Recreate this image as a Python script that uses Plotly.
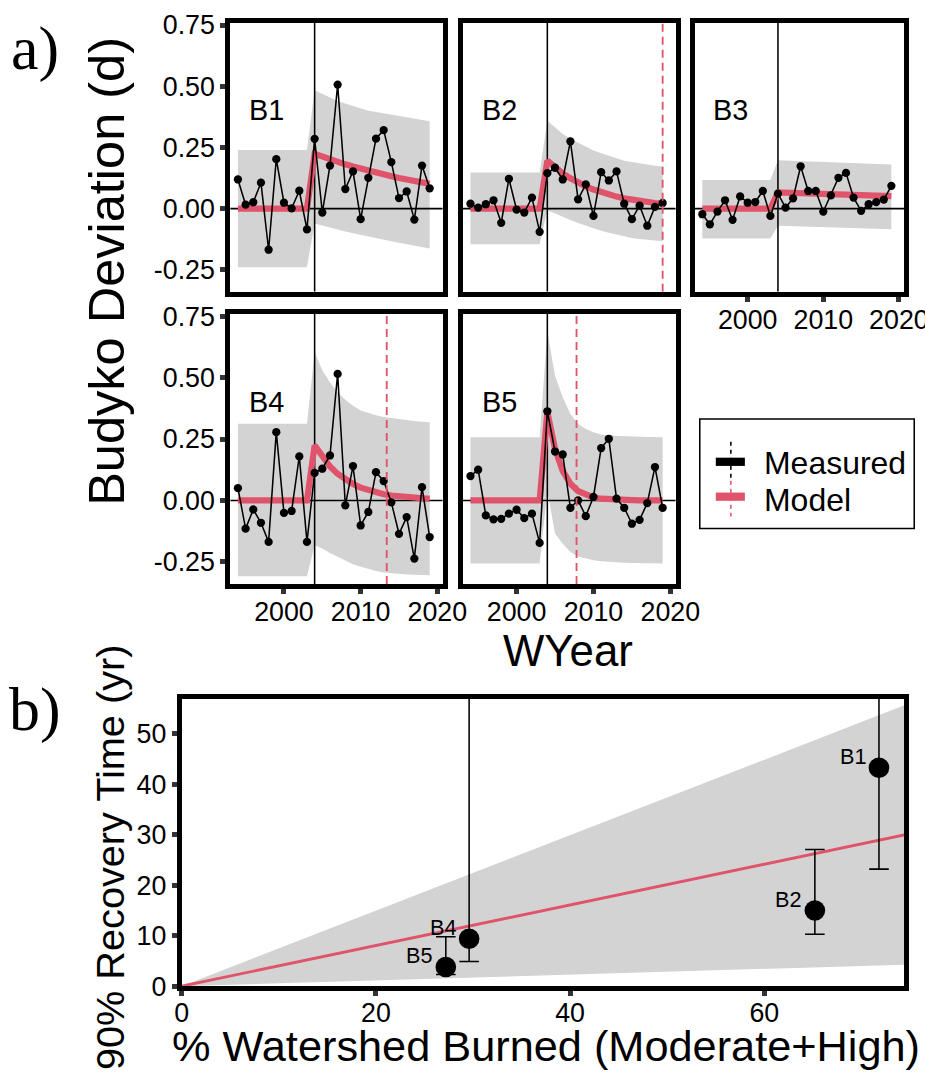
import plotly.graph_objects as go

# Figure size (CSS px). Positions below are given in reference-picture pixels and converted.
W, H = 942, 1080
OFF = 8            # default body margin of the page
SX, SY = 0.965, 0.978   # observed screenshot scaling
K = 1 / 0.97       # size compensation for fonts / widths

# ---------------- data: panel a) ----------------
years = [1994, 1995, 1996, 1997, 1998, 1999, 2000, 2001, 2002, 2003, 2004, 2005, 2006,
         2007, 2008, 2009, 2010, 2011, 2012, 2013, 2014, 2015, 2016, 2017, 2018, 2019]
basins = ["B1", "B2", "B3", "B4", "B5"]
fire_year = 2004

b1_measured = [0.119, 0.016, 0.026, 0.106, -0.168, 0.202, 0.024, 0.001, 0.073, -0.085, 0.285, -0.016, 0.176,
               0.507, 0.080, 0.152, -0.043, 0.126, 0.286, 0.321, 0.190, 0.043, 0.070, -0.045, 0.176, 0.083]
b1_model = [0, 0, 0, 0, 0, 0, 0, 0, 0, 0, 0.224, 0.212, 0.201, 0.191, 0.181, 0.172, 0.163, 0.154, 0.146,
            0.139, 0.132, 0.125, 0.118, 0.112, 0.107, 0.101]
b1_upper = [0.24, 0.24, 0.24, 0.24, 0.24, 0.24, 0.24, 0.24, 0.24, 0.24, 0.484, 0.47, 0.455, 0.44, 0.43, 0.42,
            0.41, 0.40, 0.395, 0.39, 0.383, 0.377, 0.372, 0.367, 0.362, 0.357]
b1_lower = [-0.24, -0.24, -0.24, -0.24, -0.24, -0.24, -0.24, -0.24, -0.24, -0.24, -0.061, -0.07, -0.078,
            -0.086, -0.094, -0.101, -0.108, -0.115, -0.121, -0.127, -0.133, -0.139, -0.145, -0.151, -0.157, -0.163]

b2_measured = [0.020, 0.004, 0.018, 0.034, -0.058, 0.122, -0.004, -0.016, 0.045, -0.095, 0.145, 0.167, 0.119,
               0.275, 0.038, 0.099, -0.030, 0.149, 0.115, 0.152, 0.020, -0.043, 0.012, -0.070, 0.007, 0.023]
b2_model = [0, 0, 0, 0, 0, 0, 0, 0, 0, 0, 0.196, 0.168, 0.144, 0.124, 0.106, 0.091, 0.078, 0.067, 0.057,
            0.049, 0.042, 0.036, 0.031, 0.027, 0.023, 0.020]
b2_upper = [0.148, 0.148, 0.148, 0.148, 0.148, 0.148, 0.148, 0.148, 0.148, 0.148, 0.359, 0.33, 0.305, 0.285,
            0.268, 0.252, 0.237, 0.226, 0.215, 0.205, 0.196, 0.19, 0.184, 0.179, 0.175, 0.172]
b2_lower = [-0.146, -0.146, -0.146, -0.146, -0.146, -0.146, -0.146, -0.146, -0.146, -0.146, -0.007, -0.021,
            -0.034, -0.047, -0.059, -0.07, -0.081, -0.09, -0.099, -0.107, -0.115, -0.12, -0.124, -0.128, -0.131, -0.133]

b3_measured = [-0.023, -0.064, -0.012, 0.034, -0.046, 0.050, 0.024, 0.027, 0.072, -0.030, 0.061, 0.004, 0.042,
               0.173, 0.072, 0.072, -0.012, 0.054, 0.126, 0.146, 0.045, -0.009, 0.018, 0.027, 0.037, 0.093]
b3_model = [0, 0, 0, 0, 0, 0, 0, 0, 0, 0, 0.066, 0.065, 0.064, 0.063, 0.062, 0.061, 0.060, 0.059, 0.058,
            0.057, 0.056, 0.055, 0.054, 0.053, 0.052, 0.051]
b3_upper = [0.117, 0.117, 0.117, 0.117, 0.117, 0.117, 0.117, 0.117, 0.117, 0.117, 0.198, 0.197, 0.196, 0.195,
            0.194, 0.193, 0.192, 0.191, 0.19, 0.189, 0.188, 0.186, 0.185, 0.183, 0.182, 0.18]
b3_lower = [-0.122, -0.122, -0.122, -0.122, -0.122, -0.122, -0.122, -0.122, -0.122, -0.122, -0.070, -0.071,
            -0.072, -0.073, -0.074, -0.075, -0.076, -0.077, -0.078, -0.079, -0.08, -0.081, -0.082, -0.083, -0.083, -0.084]

b4_measured = [0.050, -0.115, -0.037, -0.091, -0.169, 0.278, -0.051, -0.043, 0.179, -0.169, 0.112, 0.129, 0.183,
               0.515, -0.020, 0.140, -0.102, -0.047, 0.115, 0.079, -0.008, -0.136, -0.068, -0.237, 0.054, -0.149]
b4_model = [0, 0, 0, 0, 0, 0, 0, 0, 0, 0, 0.224, 0.176, 0.138, 0.108, 0.085, 0.067, 0.052, 0.041, 0.032,
            0.025, 0.020, 0.016, 0.012, 0.010, 0.008, 0.006]
b4_upper = [0.312, 0.312, 0.312, 0.312, 0.312, 0.312, 0.312, 0.312, 0.312, 0.312, 0.603, 0.53, 0.48, 0.44,
            0.41, 0.385, 0.366, 0.355, 0.347, 0.34, 0.335, 0.33, 0.326, 0.323, 0.32, 0.318]
b4_lower = [-0.309, -0.309, -0.309, -0.309, -0.309, -0.309, -0.309, -0.309, -0.309, -0.309, -0.183, -0.196,
            -0.214, -0.23, -0.247, -0.26, -0.27, -0.28, -0.287, -0.293, -0.297, -0.3, -0.302, -0.303, -0.304, -0.305]

b5_measured = [0.099, 0.125, -0.061, -0.077, -0.075, -0.054, -0.038, -0.072, -0.054, -0.173, 0.363, 0.199, 0.187,
               -0.030, 0.000, -0.064, 0.014, 0.213, 0.251, 0.007, -0.030, -0.095, -0.079, -0.011, 0.136, -0.030]
b5_model = [0, 0, 0, 0, 0, 0, 0, 0, 0, 0, 0.36, 0.21, 0.12, 0.068, 0.038, 0.022, 0.012, 0.007, 0.004,
            0.002, 0.001, 0.001, 0.0, 0.0, 0.0, 0.0]
b5_upper = [0.257, 0.257, 0.257, 0.257, 0.257, 0.257, 0.257, 0.257, 0.257, 0.257, 0.69, 0.508, 0.42, 0.352,
            0.312, 0.291, 0.278, 0.268, 0.264, 0.262, 0.261, 0.26, 0.259, 0.258, 0.257, 0.257]
b5_lower = [-0.257, -0.257, -0.257, -0.257, -0.257, -0.257, -0.257, -0.257, -0.257, -0.257, 0.04, -0.135,
            -0.176, -0.21, -0.228, -0.237, -0.244, -0.248, -0.251, -0.253, -0.254, -0.255, -0.256, -0.256, -0.257, -0.257]

# ---------------- data: panel b) ----------------
burn_basins = ["B1", "B2", "B4", "B5"]
burn_pct = [71.8, 65.2, 29.6, 27.2]
recovery_time = [43.3, 15.0, 9.4, 3.8]
recovery_lo = [23.2, 10.3, 4.9, 2.3]
recovery_hi = [80.0, 27.1, 80.0, 9.8]
fit_x = [0, 75]
fit_y = [0, 30.2]
fit_hi = [0, 56.1]
fit_lo = [0, 4.3]

x_ticks_a = [2000, 2010, 2020]
y_ticks_a = [-0.25, 0.0, 0.25, 0.5, 0.75]
y_ticklabels_a = ["-0.25", "0.00", "0.25", "0.50", "0.75"]
x_ticks_b = [0, 20, 40, 60]
y_ticks_b = [0, 10, 20, 30, 40, 50]

# ---------------- styling ----------------
RED = "#DF536B"
GREY = "#D3D3D3"
FONT = "Liberation Sans, Arial, sans-serif"
SERIF = "Liberation Serif, Times New Roman, serif"
XR_A = [1993.0, 2020.7]
YR_A = [-0.34, 0.76]


def px(x):
    """reference-picture pixel x -> paper fraction"""
    return (x / SX - OFF) / W


def py(y):
    """reference-picture pixel y -> paper fraction"""
    return 1 - (y / SY - OFF) / H


def fs(v):
    return round(v * K, 2)


panel_data = {
    "B1": (b1_measured, b1_model, b1_upper, b1_lower),
    "B2": (b2_measured, b2_model, b2_upper, b2_lower),
    "B3": (b3_measured, b3_model, b3_upper, b3_lower),
    "B4": (b4_measured, b4_model, b4_upper, b4_lower),
    "B5": (b5_measured, b5_model, b5_upper, b5_lower),
}
recovery_lookup = dict(zip(burn_basins, recovery_time))

col_x = {"B1": (230.5, 442.5), "B2": (462.5, 675), "B3": (694, 903), "B4": (230.5, 442.5), "B5": (462.5, 675)}
row_y = {"B1": (18.5, 288.5), "B2": (18.5, 288.5), "B3": (18.5, 288.5), "B4": (310.5, 581.5), "B5": (310.5, 581.5)}
show_xlab = {"B1": False, "B2": False, "B3": True, "B4": True, "B5": True}
show_ylab = {"B1": True, "B2": False, "B3": False, "B4": True, "B5": False}

fig = go.Figure()
layout = dict(width=W, height=H, margin=dict(l=0, r=0, t=0, b=0), paper_bgcolor="white",
              plot_bgcolor="white", showlegend=False, font=dict(family=FONT, color="black"))
shapes = []
annotations = []

axis_common = dict(showline=True, linewidth=fs(4.5), linecolor="black", mirror=True, showgrid=False,
                   zeroline=False, ticklen=fs(5), tickwidth=fs(5), tickcolor="#333333",
                   tickfont=dict(size=fs(26), color="black", family=FONT))

for i, b in enumerate(basins, start=1):
    xa = "x" if i == 1 else f"x{i}"
    ya = "y" if i == 1 else f"y{i}"
    meas, model, up, lo = panel_data[b]
    fig.add_trace(go.Scatter(x=years, y=up, mode="lines", line=dict(width=0, color=GREY),
                             hoverinfo="skip", xaxis=xa, yaxis=ya))
    fig.add_trace(go.Scatter(x=years, y=lo, mode="lines", line=dict(width=0, color=GREY), fill="tonexty",
                             fillcolor=GREY, hoverinfo="skip", xaxis=xa, yaxis=ya))
    fig.add_trace(go.Scatter(x=XR_A, y=[0, 0], mode="lines", line=dict(color="black", width=fs(1.5)),
                             xaxis=xa, yaxis=ya))
    fig.add_trace(go.Scatter(x=[fire_year, fire_year], y=YR_A, mode="lines",
                             line=dict(color="black", width=fs(1.5)), xaxis=xa, yaxis=ya))
    fig.add_trace(go.Scatter(x=years, y=model, mode="lines", line=dict(color=RED, width=fs(6)),
                             xaxis=xa, yaxis=ya))
    fig.add_trace(go.Scatter(x=years, y=meas, mode="lines+markers", line=dict(color="black", width=fs(1.5)),
                             marker=dict(color="black", size=fs(8)), xaxis=xa, yaxis=ya))
    if b in recovery_lookup:
        rx = fire_year + recovery_lookup[b]
        if XR_A[0] <= rx <= XR_A[1]:
            fig.add_trace(go.Scatter(x=[rx, rx], y=YR_A, mode="lines",
                                     line=dict(color=RED, width=fs(1.8), dash="8px,5px"), xaxis=xa, yaxis=ya))

    x0, x1 = col_x[b]
    y0, y1 = row_y[b]
    xkey = "xaxis" if i == 1 else f"xaxis{i}"
    ykey = "yaxis" if i == 1 else f"yaxis{i}"
    layout[xkey] = dict(axis_common, domain=[px(x0), px(x1)], anchor=ya, range=XR_A,
                        tickvals=x_ticks_a, showticklabels=show_xlab[b],
                        ticks="outside" if show_xlab[b] else "", ticklabelstandoff=-5)
    layout[ykey] = dict(axis_common, domain=[py(y1), py(y0)], anchor=xa, range=YR_A,
                        tickvals=y_ticks_a, ticktext=y_ticklabels_a, showticklabels=show_ylab[b],
                        ticks="outside" if show_ylab[b] else "")
    annotations.append(dict(text=b, xref=f"{xa} domain", yref=f"{ya} domain", x=0.172, y=0.675,
                            showarrow=False, font=dict(size=fs(28), family=FONT, color="black"),
                            xanchor="center", yanchor="middle"))

# ---------------- panel b) ----------------
fig.add_trace(go.Scatter(x=fit_x, y=fit_hi, mode="lines", line=dict(width=0, color=GREY),
                         xaxis="x6", yaxis="y6", hoverinfo="skip"))
fig.add_trace(go.Scatter(x=fit_x, y=fit_lo, mode="lines", line=dict(width=0, color=GREY), fill="tonexty",
                         fillcolor=GREY, xaxis="x6", yaxis="y6", hoverinfo="skip"))
fig.add_trace(go.Scatter(x=fit_x, y=fit_y, mode="lines", line=dict(color=RED, width=fs(2.8)),
                         xaxis="x6", yaxis="y6"))
fig.add_trace(go.Scatter(
    x=burn_pct, y=recovery_time, mode="markers",
    marker=dict(color="black", size=fs(20)),
    error_y=dict(type="data", symmetric=False,
                 array=[h - r for h, r in zip(recovery_hi, recovery_time)],
                 arrayminus=[r - l for r, l in zip(recovery_time, recovery_lo)],
                 color="black", thickness=fs(1.5), width=fs(9.5)),
    xaxis="x6", yaxis="y6"))
for name, bx, by in zip(burn_basins, burn_pct, recovery_time):
    annotations.append(dict(text=name, x=bx, y=by, xref="x6", yref="y6", showarrow=False,
                            xanchor="right", yanchor="middle", xshift=-11.4, yshift=11.2,
                            font=dict(size=fs(21), family=FONT, color="black")))

layout["xaxis6"] = dict(axis_common, domain=[px(182), px(903)], anchor="y6", range=[0, 74.4],
                        tickvals=x_ticks_b, ticks="outside", ticklabelstandoff=-6)
layout["yaxis6"] = dict(axis_common, domain=[py(985), py(696.5)], anchor="x6", range=[0, 57],
                        tickvals=y_ticks_b, ticks="outside")

# ---------------- titles & labels ----------------
annotations += [
    dict(text="Budyko Deviation (d)", x=px(107), y=py(268), xref="paper", yref="paper", showarrow=False,
         textangle=-90, font=dict(size=fs(49), family=FONT, color="black"), xanchor="center", yanchor="middle"),
    dict(text="WYear", x=px(568), y=py(648), xref="paper", yref="paper", showarrow=False,
         font=dict(size=fs(42.5), family=FONT, color="black"), xanchor="center", yanchor="middle"),
    dict(text="90% Recovery Time (yr)", x=px(110), y=py(856), xref="paper", yref="paper", showarrow=False,
         textangle=-90, font=dict(size=fs(38.5), family=FONT, color="black"), xanchor="center", yanchor="middle"),
    dict(text="% Watershed Burned (Moderate+High)", x=px(546), y=py(1045), xref="paper", yref="paper",
         showarrow=False, font=dict(size=fs(42), family=FONT, color="black"), xanchor="center", yanchor="middle"),
    dict(text="a)", x=px(36), y=py(44), xref="paper", yref="paper", showarrow=False,
         font=dict(size=fs(60), family=SERIF, color="black"), xanchor="center", yanchor="middle"),
    dict(text="b)", x=px(36), y=py(707), xref="paper", yref="paper", showarrow=False,
         font=dict(size=fs(60), family=SERIF, color="black"), xanchor="center", yanchor="middle"),
    dict(text="Measured", x=px(761), y=py(460), xref="paper", yref="paper", showarrow=False,
         font=dict(size=fs(31), family=FONT, color="black"), xanchor="left", yanchor="middle"),
    dict(text="Model", x=px(761), y=py(497), xref="paper", yref="paper", showarrow=False,
         font=dict(size=fs(31), family=FONT, color="black"), xanchor="left", yanchor="middle"),
]

shapes += [
    dict(type="rect", xref="paper", yref="paper", x0=px(699), x1=px(913), y0=py(526), y1=py(416),
         line=dict(color="black", width=fs(1.5)), fillcolor="white", layer="above"),
    dict(type="line", xref="paper", yref="paper", x0=px(730), x1=px(730), y0=py(439), y1=py(479),
         line=dict(color="black", width=fs(1.5), dash="4px,4px"), layer="above"),
    dict(type="line", xref="paper", yref="paper", x0=px(715), x1=px(744), y0=py(459), y1=py(459),
         line=dict(color="black", width=fs(8)), layer="above"),
    dict(type="line", xref="paper", yref="paper", x0=px(730), x1=px(730), y0=py(478), y1=py(514),
         line=dict(color=RED, width=fs(1.5), dash="4px,4px"), layer="above"),
    dict(type="line", xref="paper", yref="paper", x0=px(715), x1=px(744), y0=py(494), y1=py(494),
         line=dict(color=RED, width=fs(8)), layer="above"),
]

layout["shapes"] = shapes
layout["annotations"] = annotations
fig.update_layout(**layout)
fig.write_html("out.html")
